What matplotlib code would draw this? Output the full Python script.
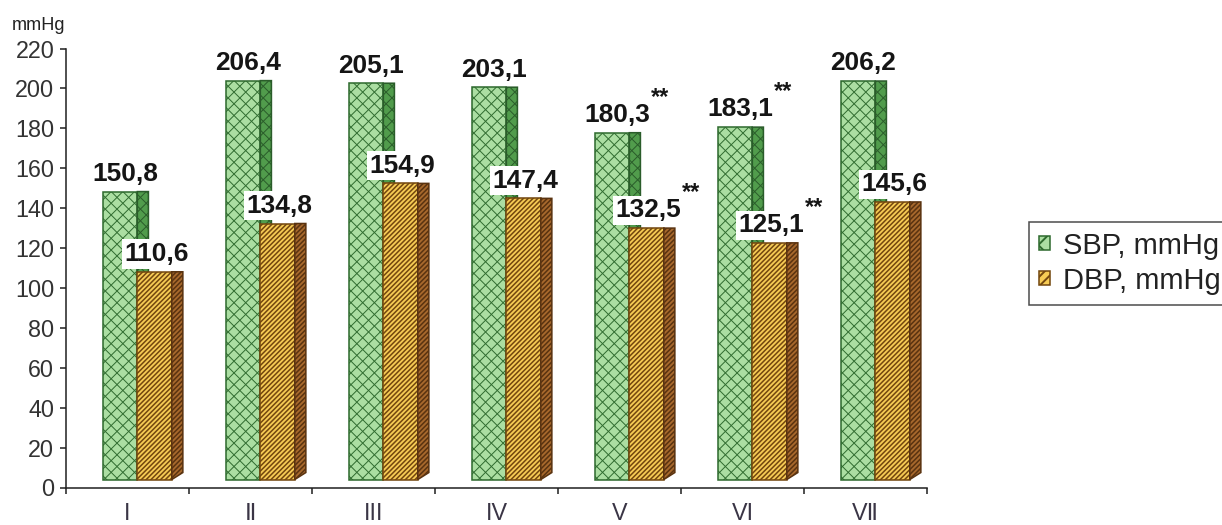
import matplotlib
matplotlib.use('Agg')
import matplotlib.pyplot as plt
from matplotlib.patches import Polygon, Patch
from matplotlib.collections import LineCollection
from matplotlib.transforms import IdentityTransform
import numpy as np

# ---- data -------------------------------------------------------------
groups = ['I', 'Ⅱ', 'III', 'IV', 'V', 'VI', 'VⅡ']
sbp = [150.8, 206.4, 205.1, 203.1, 180.3, 183.1, 206.2]
dbp = [110.6, 134.8, 154.9, 147.4, 132.5, 125.1, 145.6]
sbp_marks = ['', '', '', '', '**', '**', '']
dbp_marks = ['', '', '', '', '**', '**', '']
y_ticks = list(range(0, 221, 20))
series_names = ['SBP, mmHg', 'DBP, mmHg']

# ---- look -------------------------------------------------------------
DPI = 140
plt.rcParams['font.family'] = ['Liberation Sans', 'DejaVu Sans']

FLOOR = 4.0      # floor of the pseudo-3D boxes
SINK = 2.5       # perspective drop of the front face
W = 0.28         # front-face width
DEPTH_X = 0.09   # side-face depth (x units)
DEPTH_Y = 3.5    # side-face rise at the floor (y units)

fig = plt.figure(figsize=(1222 / DPI, 525 / DPI), dpi=DPI)
ax = fig.add_axes([66 / 1222, 37.5 / 525, 861 / 1222, 439 / 525])
ax.set_xlim(-0.5, 6.5)
ax.set_ylim(0, 220)

x = np.arange(len(groups))
styles = [
    dict(vals=sbp, left=x - 0.20, face='#abdea2', line='#2f6b2f',
         side='#519c4c', side_line='#2a5c2a', kinds='/\\', step=11.7,
         hlw=0.5, z=2, mhatch='xx'),
    dict(vals=dbp, left=x + 0.08, face='#f7cc55', line='#74480f',
         side='#a8692d', side_line='#5a3310', kinds='/', step=4.8,
         hlw=0.8, z=3, mhatch='/////'),
]


def hatch_lines(patch, kinds, step, color, lw, z):
    """Diagonal hatch lines in pixel space, clipped to a patch."""
    trans = patch.get_transform()
    path = patch.get_path()
    ext = path.transformed(trans).get_extents()
    x0, y0, x1, y1 = ext.x0 - 2, ext.y0 - 2, ext.x1 + 2, ext.y1 + 2
    segs = []
    for kind in kinds:
        if kind == '/':
            cs = np.arange(np.floor((y0 - x1) / step) * step, y1 - x0 + step, step)
            segs += [[(x0, x0 + c), (x1, x1 + c)] for c in cs]
        else:
            cs = np.arange(np.floor((y0 + x0) / step) * step, y1 + x1 + step, step)
            segs += [[(x0, c - x0), (x1, c - x1)] for c in cs]
    lc = LineCollection(segs, colors=color, linewidths=lw,
                        transform=IdentityTransform(), zorder=z)
    ax.add_collection(lc, autolim=False)
    lc.set_clip_path(path, trans)


for st in styles:
    vals = np.array(st['vals'])
    tops = vals - SINK
    z = st['z']
    # front faces
    bars = ax.bar(st['left'], tops - FLOOR, bottom=FLOOR, width=W,
                  align='edge', color=st['face'], linewidth=0, zorder=z)
    for b in bars:
        hatch_lines(b, st['kinds'], st['step'], st['line'], st['hlw'], z + 0.05)
    ax.bar(st['left'], tops - FLOOR, bottom=FLOOR, width=W, align='edge',
           fill=False, edgecolor=st['line'], linewidth=0.8, zorder=z + 0.1)
    # side faces
    for xl, t in zip(st['left'], tops):
        xr = xl + W
        pts = [(xr, FLOOR), (xr + DEPTH_X, FLOOR + DEPTH_Y),
               (xr + DEPTH_X, t), (xr, t)]
        side = Polygon(pts, closed=True, facecolor=st['side'],
                       edgecolor='none', zorder=z + 0.2)
        ax.add_patch(side)
        hatch_lines(side, st['kinds'], st['step'], st['side_line'],
                    st['hlw'], z + 0.25)
        ax.add_patch(Polygon(pts, closed=True, fill=False,
                             edgecolor=st['side_line'], linewidth=0.8,
                             zorder=z + 0.3))

# ---- value labels -----------------------------------------------------
label_kw = dict(textcoords='offset points', ha='center', va='baseline',
                fontsize=13.5, fontweight='bold', color='#151515', zorder=6,
                bbox=dict(boxstyle='square,pad=0.1', fc='white', ec='none'))
label_pos = [(sbp, sbp_marks, -0.02), (dbp, dbp_marks, 0.235)]
for vals, marks, dx in label_pos:
    for i, v in enumerate(vals):
        txt = f'{v:.1f}'.replace('.', ',')
        t = ax.annotate(txt, xy=(x[i] + dx, v - SINK), xytext=(0, 5.5),
                        **label_kw)
        if marks[i]:
            ax.annotate(marks[i], xy=(1, 1), xycoords=t, xytext=(0.5, 3),
                        textcoords='offset points', ha='left', va='center',
                        fontsize=12, fontweight='bold', color='#151515',
                        zorder=6)

# ---- axes -------------------------------------------------------------
ax.set_yticks(y_ticks)
ax.spines[['top', 'right']].set_visible(False)
for s in ('left', 'bottom'):
    ax.spines[s].set_linewidth(0.8)
    ax.spines[s].set_color('#222222')

ax.set_xticks(np.arange(-0.5, 6.6, 1.0))
ax.set_xticklabels([])
ax.set_xticks(x, minor=True)
ax.set_xticklabels(groups, minor=True)
ax.tick_params(axis='x', which='minor', length=0, pad=7.5,
               labelsize=12, labelcolor='#3a3545')
ax.tick_params(axis='x', which='major', length=3, width=0.8,
               direction='out', color='#222222')
ax.tick_params(axis='y', length=3, width=0.8, pad=3, labelsize=12,
               labelcolor='#333333', color='#222222')

fig.text(12 / 1222, 1 - 26 / 525, 'mmHg', fontsize=9.3, ha='left',
         va='center', color='#222222')

# ---- legend -----------------------------------------------------------
handles = []
for st, name in zip(styles, series_names):
    h = Patch(facecolor=st['face'], edgecolor=st['line'], hatch=st['mhatch'],
              linewidth=0.8, label=name)
    handles.append(h)
leg = fig.legend(handles=handles, loc='upper left',
                 bbox_to_anchor=(1029 / 1222, 1 - 222 / 525),
                 bbox_transform=fig.transFigure, borderaxespad=0,
                 fontsize=15, frameon=True, fancybox=False,
                 handlelength=0.4, handleheight=0.36, handletextpad=0.42,
                 labelspacing=0.25, borderpad=0.33)
leg.get_frame().set_edgecolor('#222222')
leg.get_frame().set_linewidth(0.8)
for t in leg.get_texts():
    t.set_color('#222222')

fig.savefig('out.png', dpi=DPI, facecolor='white')
